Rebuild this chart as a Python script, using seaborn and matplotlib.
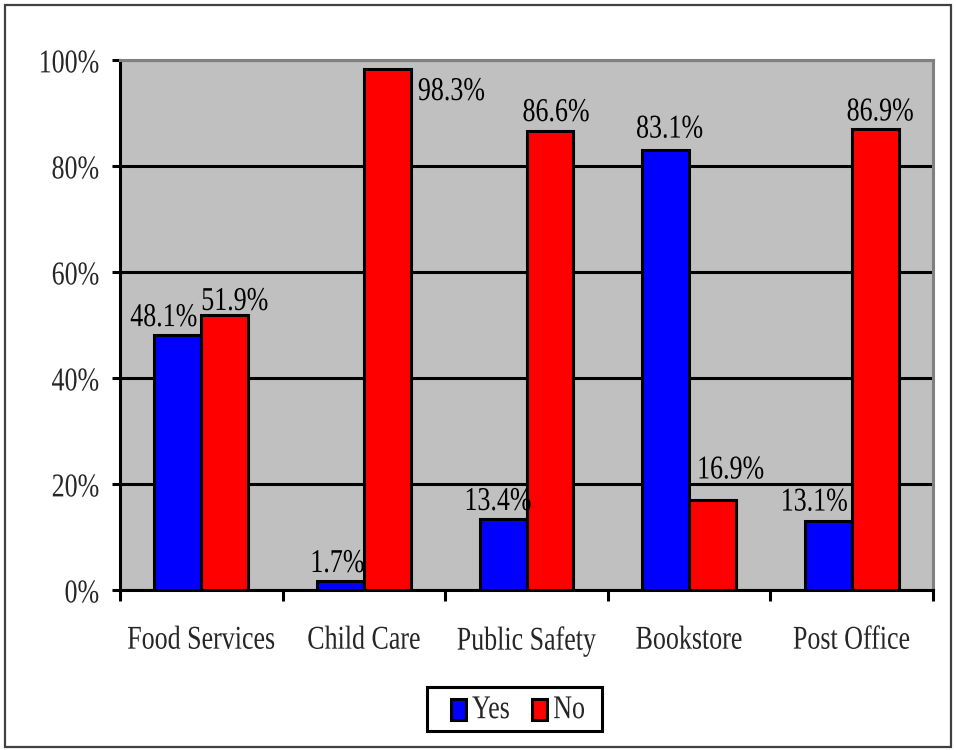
import matplotlib
matplotlib.use("Agg")
import matplotlib.pyplot as plt
from matplotlib.patches import Rectangle, Patch
from matplotlib.patheffects import AbstractPathEffect
from matplotlib.ticker import FixedLocator
from matplotlib.transforms import Affine2D
import pandas as pd
import seaborn as sns

# Survey results: share of respondents answering Yes / No for each campus service
categories = ["Food Services", "Child Care", "Public Safety", "Bookstore", "Post Office"]
yes_pct = [48.1, 1.7, 13.4, 83.1, 13.1]
no_pct = [51.9, 98.3, 86.6, 16.9, 86.9]
responses = ["Yes", "No"]
y_ticks = [0, 20, 40, 60, 80, 100]

df = pd.DataFrame({
    "Service": categories * 2,
    "Percent": yes_pct + no_pct,
    "Response": ["Yes"] * len(categories) + ["No"] * len(categories),
})


class TallText(AbstractPathEffect):
    """Draw glyphs stretched vertically about the baseline (narrow, tall serif look)."""

    def __init__(self, sy=1.28, dy=0.0):
        super().__init__()
        self._sy = sy
        self._dy = dy

    def draw_path(self, renderer, gc, tpath, affine, rgbFace=None):
        pre = Affine2D().scale(1.0, self._sy).translate(0, self._dy)
        renderer.draw_path(gc, tpath, pre + affine, rgbFace)


sns.set_theme(style="white")
plt.rcParams["font.family"] = ["Liberation Serif", "DejaVu Serif"]
FS = 18.7
LW = 2.2
tall = [TallText(1.28)]

fig = plt.figure(figsize=(9.56, 7.5), dpi=100)
ax = fig.add_axes([120 / 956, 160 / 750, 813 / 956, 530 / 750])
ax.set_facecolor("#C0C0C0")

palette = {"Yes": "#0000FF", "No": "#FF0000"}
sns.barplot(data=df, x="Service", y="Percent", hue="Response", hue_order=responses,
            palette=palette, width=0.578, gap=0, saturation=1,
            edgecolor="black", linewidth=LW, legend=False, ax=ax, zorder=3)

ax.set_xlim(-0.5, len(categories) - 0.5)
ax.set_ylim(0, 100)
ax.set_xlabel("")
ax.set_ylabel("")

# y axis: percent ticks with black gridlines
ax.set_yticks(y_ticks)
ax.set_yticklabels([f"{v}%" for v in y_ticks], fontsize=FS)
ax.yaxis.grid(True, color="black", linewidth=LW)
ax.xaxis.grid(False)
ax.set_axisbelow(True)
ax.tick_params(axis="y", which="major", direction="out", length=6, width=LW,
               color="black", pad=9, left=True)
for lab in ax.get_yticklabels():
    lab.set_path_effects([TallText(1.28, -15)])

# x axis: labels at the category centres, tick marks at the boundaries
ax.set_xticks(range(len(categories)))
ax.set_xticklabels(categories, fontsize=FS)
ax.tick_params(axis="x", which="major", length=0, pad=30)
ax.xaxis.set_minor_locator(FixedLocator([i - 0.5 for i in range(len(categories) + 1)]))
ax.tick_params(axis="x", which="minor", direction="out", length=8, width=LW,
               color="black", bottom=True)
for lab in ax.get_xticklabels():
    lab.set_path_effects(tall)

for side in ["left", "bottom"]:
    ax.spines[side].set_color("black")
    ax.spines[side].set_linewidth(LW)
for side in ["top", "right"]:
    ax.spines[side].set_color("#808080")
    ax.spines[side].set_linewidth(LW)

# value labels above the bars (offsets in pixels from the bar's top centre)
yes_offsets = [(-14, 9), (-3, 9), (-5, 9), (4, 12), (-14, 10)]
no_offsets = [(10, 5), None, (6, 10), (18, 22), (5, 9)]
for container, values, offsets in zip(ax.containers, [yes_pct, no_pct], [yes_offsets, no_offsets]):
    for bar, val, off in zip(container.patches, values, offsets):
        cx = bar.get_x() + bar.get_width() / 2
        top = bar.get_height()
        label = f"{val:.1f}%"
        if off is None:
            t = ax.annotate(label, xy=(bar.get_x() + bar.get_width(), top),
                            xytext=(7, -31), textcoords="offset pixels",
                            ha="left", va="baseline", fontsize=FS, color="black",
                            zorder=5, annotation_clip=False)
        else:
            t = ax.annotate(label, xy=(cx, top), xytext=off, textcoords="offset pixels",
                            ha="center", va="baseline", fontsize=FS, color="black",
                            zorder=5, annotation_clip=False)
        t.set_path_effects(tall)

# legend below the plot, inside its own box
fig.patches.append(Rectangle((427 / 956, 19 / 750), 175 / 956, 44 / 750,
                             transform=fig.transFigure, facecolor="white",
                             edgecolor="black", linewidth=LW, zorder=1))
handles = [Patch(facecolor=palette[r], edgecolor="black", linewidth=LW, label=r)
           for r in responses]
leg = fig.legend(handles=handles, loc="center", bbox_to_anchor=(518 / 956, 39 / 750),
                 ncol=2, fontsize=FS, frameon=False,
                 handlelength=0.58, handleheight=0.85, handletextpad=0.23,
                 columnspacing=0.85, borderpad=0.0, borderaxespad=0)
leg.set_zorder(2)
for txt in leg.get_texts():
    txt.set_path_effects(tall)

# outer chart border
fig.patches.append(Rectangle((5 / 956, 3 / 750), 946 / 956, 742 / 750,
                             transform=fig.transFigure, fill=False,
                             edgecolor="#404040", linewidth=1.6, zorder=0))

fig.savefig("out.png", dpi=100, facecolor="white")
